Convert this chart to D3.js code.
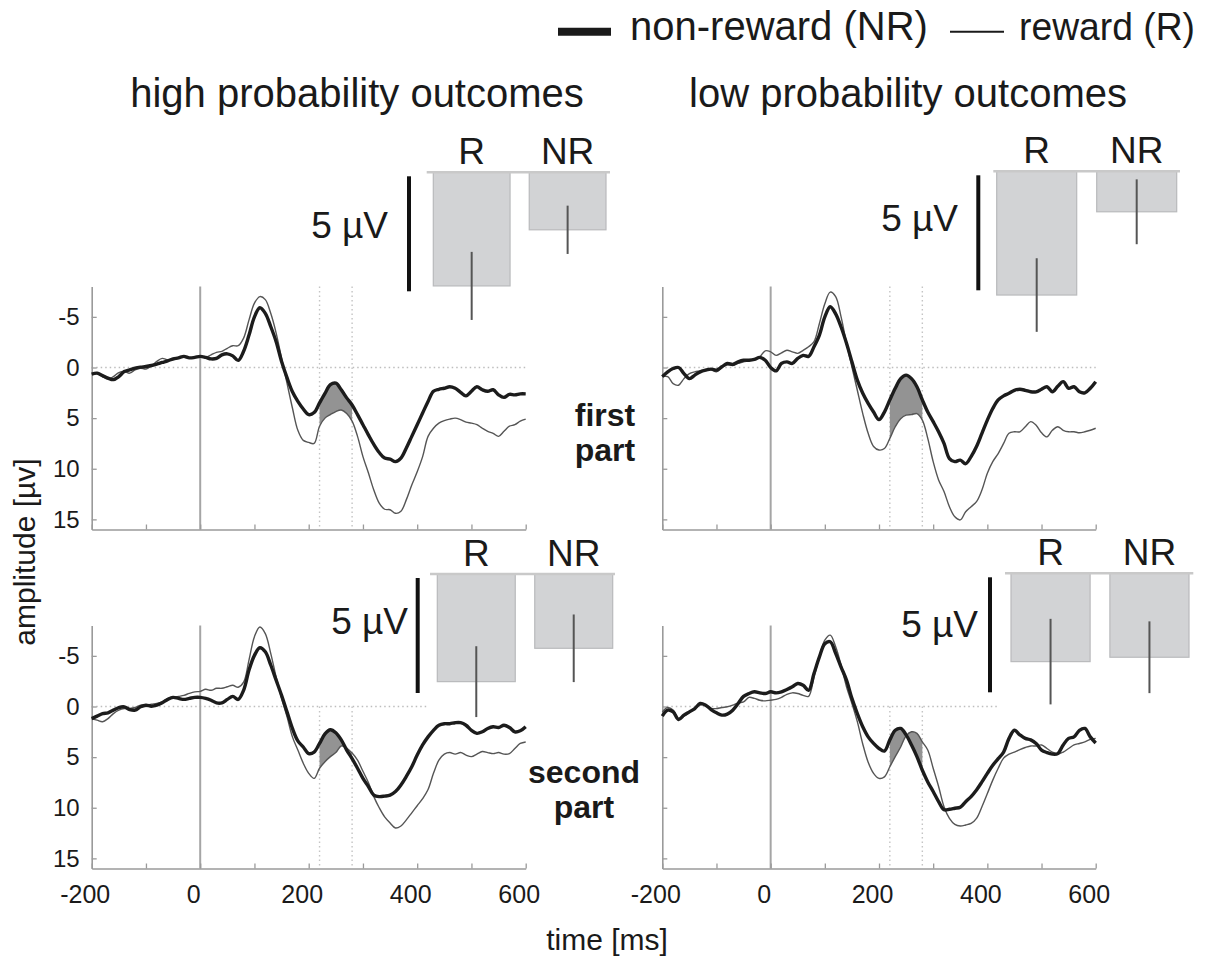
<!DOCTYPE html>
<html><head><meta charset="utf-8">
<script src="https://cdn.jsdelivr.net/npm/d3@7/dist/d3.min.js"></script>
<style>
body{margin:0;background:#fff}
svg{display:block}
text{font-family:"Liberation Sans",Arial,Helvetica,sans-serif;fill:#1a1a1a}
</style>
</head><body>
<svg id="chart" width="1207" height="959"></svg>
<script>
// ---------- DATA ----------
const times = d3.range(-200, 601, 10); // ms, sample grid
const yTicks = [-5, 0, 5, 10, 15];
const xTicks = [-200, -100, 0, 100, 200, 300, 400, 500, 600];
const xTickLabels = [-200, 0, 200, 400, 600];
const windowMs = [220, 280];
const barCategories = ["R", "NR"];
const titles = ["high probability outcomes", "low probability outcomes"];
const rowLabels = [["first", "part"], ["second", "part"]];
const legendLabels = ["non-reward (NR)", "reward (R)"];

// high probability, first part
const nrHighFirst = [0.66,0.56,0.8,1.05,1.2,0.9,0.4,0.23,0.07,-0.03,
 -0.1,-0.2,-0.33,-0.5,-0.66,-0.85,-0.95,-1.1,-0.95,-1.0,
 -1.1,-1.0,-0.85,-0.9,-1.25,-1.35,-1.15,-0.7,-1.6,-3.2,
 -5.0,-5.9,-5.35,-4.05,-2.55,-0.6,1.0,2.4,3.35,4.1,
 4.65,4.45,3.5,2.55,1.7,1.55,2.2,3.0,3.7,4.65,
 5.65,6.65,7.6,8.4,8.95,9.05,9.3,8.95,7.95,6.8,
 5.65,4.5,3.35,2.35,2.15,2.05,1.9,2.05,2.45,2.8,
 2.35,1.9,2.2,2.35,2.2,2.7,2.95,2.65,2.7,2.6,2.6];
const rHighFirst = [0.66,0.6,0.9,1.15,0.9,0.5,0.4,0.56,0.23,0.07,
 0.16,-0.16,-0.6,-0.9,-0.75,-0.75,-1.0,-1.0,-0.95,-1.0,
 -1.1,-1.0,-1.25,-1.5,-1.6,-1.9,-2.15,-2.15,-2.9,-4.7,
 -6.35,-7.0,-6.7,-5.35,-3.4,-0.9,1.55,4.0,6.2,7.2,
 7.4,7.5,5.8,5.0,4.65,4.35,4.2,4.55,5.3,6.8,
 8.8,10.4,12.1,13.4,14.0,14.05,14.4,14.2,13.05,11.6,
 10.3,8.8,6.8,6.0,5.5,5.25,5.1,5.0,5.15,5.4,
 5.5,5.65,6.0,6.3,6.5,6.8,6.3,5.8,5.65,5.3,5.1];

// low probability, first part
const nrLowFirst = [0.9,0.43,0.1,0,0.6,1.1,0.75,0.43,0.26,0.16,
 0.26,-0.07,-0.4,-0.3,-0.56,-0.72,-0.72,-0.8,-1.0,-0.72,
 0,0.33,-0.4,-0.56,-0.4,-0.9,-1.2,-1.1,-2.05,-3.2,
 -5.0,-6.0,-5.3,-4.0,-2.4,-0.56,1.25,2.55,3.55,4.4,
 5.15,4.4,3.2,2.05,1.1,0.75,1.1,1.9,3.2,4.4,
 5.35,6.35,7.5,9.0,9.3,9.15,9.5,8.8,7.8,6.5,
 5.2,4.05,3.2,2.8,2.55,2.25,2.15,2.25,2.4,2.4,
 2.15,1.9,2.4,1.85,1.4,2.05,1.9,2.4,2.5,2.05,1.4];
const rLowFirst = [0.9,0.9,1.6,1.75,1.1,0.6,0.43,0.33,0.2,0.2,
 0.43,0,-0.23,-0.23,-0.4,-0.56,-0.66,-0.8,-1.05,-1.65,
 -1.55,-1.2,-1.45,-1.7,-1.55,-1.4,-1.7,-2.05,-2.55,-4.35,
 -6.3,-7.45,-7.0,-5.0,-2.4,-0.07,2.25,4.55,6.5,7.8,
 8.15,8.0,7.0,5.85,5.05,4.7,4.65,4.55,5.2,7.0,
 9.3,11.1,12.25,13.75,14.75,15.05,14.25,13.75,13.25,12.1,
 10.45,9.3,8.5,7.5,6.5,6.35,6.35,5.85,5.35,5.7,
 6.45,6.85,6.2,5.85,6.2,6.35,6.35,6.45,6.35,6.2,6.0];

// high probability, second part
const nrHighSecond = [1.2,0.95,0.7,0.62,0.36,0.1,0.03,0.3,0.36,0.03,
 -0.13,-0.03,-0.13,-0.36,-0.7,-0.9,-0.8,-0.7,-0.8,-0.9,
 -0.9,-0.8,-0.62,-0.36,-0.36,-0.7,-1.0,-0.7,-1.6,-3.6,
 -5.05,-5.8,-5.4,-4.1,-2.6,-1.1,0.53,2.17,3.4,4.0,
 4.65,4.5,3.65,2.7,2.3,2.6,3.3,4.3,5.15,6.1,
 7.1,7.9,8.75,8.9,8.85,8.75,8.4,7.75,6.9,5.95,
 4.8,3.8,3.0,2.35,1.85,1.7,1.7,1.6,1.6,1.85,
 2.35,2.65,2.5,2.17,2.0,2.07,1.85,2.07,2.5,2.4,2.0];
const rHighSecond = [1.2,1.35,1.5,1.2,0.7,0.36,0.2,0.2,0.1,-0.13,
 -0.13,-0.23,-0.3,-0.46,-0.8,-0.9,-1.0,-1.1,-1.3,-1.45,
 -1.5,-1.7,-1.6,-1.8,-1.8,-1.95,-2.1,-1.9,-2.4,-4.6,
 -6.9,-7.85,-7.2,-5.25,-2.9,-0.8,1.0,3.0,4.3,5.6,
 6.6,7.1,6.1,5.45,4.95,4.55,3.9,4.1,4.6,5.3,
 6.4,7.5,8.9,10.0,10.9,11.5,12.0,11.8,11.2,10.5,
 9.8,9.1,8.2,6.6,5.3,4.7,4.55,4.7,4.55,4.8,
 4.95,4.7,4.45,4.55,4.65,4.55,4.7,4.65,4.15,3.65,3.5];

// low probability, second part
const nrLowSecond = [0.95,0.36,0.53,1.28,0.85,0.53,0.2,-0.3,-0.13,0.3,
 0.62,0.85,0.75,0.36,-0.3,-1.0,-1.28,-1.45,-1.35,-1.28,
 -1.45,-1.35,-1.45,-1.68,-1.95,-2.27,-2.1,-1.6,-3.25,-4.9,
 -6.2,-6.4,-5.25,-3.9,-2.6,-0.8,0.7,2.0,3.0,3.65,
 4.15,4.4,3.3,2.35,2.17,2.8,3.8,4.95,6.3,7.45,
 8.4,9.4,10.2,10.15,10.05,9.95,9.4,8.9,8.25,7.45,
 6.6,5.8,5.15,4.5,3.15,2.35,2.8,3.15,3.3,3.65,
 4.3,4.55,4.7,4.65,3.8,3.15,3.0,2.35,2.17,3.0,3.6];
const rLowSecond = [0.53,0.1,0.36,1.2,0.95,0.62,0.2,-0.13,-0.13,0.2,
 0.2,0.1,0.03,-0.13,-0.36,-0.46,-0.9,-0.8,-0.62,-0.56,
 -0.62,-0.7,-0.9,-1.2,-1.35,-1.28,-1.1,-1.0,-2.9,-4.9,
 -6.55,-7.05,-5.9,-4.1,-1.95,-0.3,1.5,3.7,5.5,6.6,
 7.1,6.95,5.95,4.95,4.0,2.9,2.5,2.65,3.5,4.3,
 6.1,7.9,9.9,11.05,11.65,11.8,11.7,11.55,11.05,9.9,
 8.6,7.27,6.1,5.1,4.7,4.5,4.25,4.05,3.9,3.9,
 3.8,4.15,4.5,4.7,4.5,4.15,3.8,3.65,3.5,3.25,3.15];

// inset bar charts: mean amplitude (µV) and error for [R, NR]
const barHighFirst = [4.94, 2.5],   errHighFirst = [1.48, 1.05];
const barLowFirst = [5.38, 1.76],   errLowFirst = [1.6, 1.41];
const barHighSecond = [4.68, 3.23], errHighSecond = [1.54, 1.47];
const barLowSecond = [3.84, 3.65],  errLowSecond = [1.86, 1.56];
const scaleBarValue = 5;

// ---------- LAYOUT ----------
const svg = d3.select("#chart");
const FONT = '"Liberation Sans",Arial,Helvetica,sans-serif';
const axisColor = "#9a9a9a";

const panels = [
  {nr: nrHighFirst, r: rHighFirst, x0: 91.7, x1: 525.7, top: 286.5, bottom: 529.5, yLab: true, xLab: false, zeroEnd: 600, vStart: -8},
  {nr: nrLowFirst, r: rLowFirst, x0: 662.3, x1: 1095.7, top: 286.5, bottom: 529.5, yLab: false, xLab: false, zeroEnd: 600, vStart: -8},
  {nr: nrHighSecond, r: rHighSecond, x0: 91.7, x1: 525.7, top: 625.5, bottom: 868.5, yLab: true, xLab: true, zeroEnd: 420, vStart: 0},
  {nr: nrLowSecond, r: rLowSecond, x0: 662.3, x1: 1095.7, top: 625.5, bottom: 868.5, yLab: false, xLab: true, zeroEnd: 420, vStart: 0}
];

const insets = [
  {vals: barHighFirst, errs: errHighFirst, bx0: 433.3, bx1: 606, lx0: 426.7, lx1: 610, baseY: 172.3, sx: 409, tx: 388, ty: 238},
  {vals: barLowFirst, errs: errLowFirst, bx0: 996.7, bx1: 1176.7, lx0: 993.3, lx1: 1180, baseY: 171.3, sx: 978.3, tx: 958, ty: 231},
  {vals: barHighSecond, errs: errHighSecond, bx0: 437.3, bx1: 612.7, lx0: 430, lx1: 615, baseY: 574, sx: 417.7, tx: 408, ty: 634},
  {vals: barLowSecond, errs: errLowSecond, bx0: 1011, bx1: 1189, lx0: 1005, lx1: 1193.3, baseY: 573.3, sx: 990, tx: 978, ty: 637}
];

const curve = d3.curveCatmullRom.alpha(0.5);

panels.forEach(p => {
  const g = svg.append("g");
  const x = d3.scaleLinear().domain([-200, 600]).range([p.x0, p.x1]);
  const y = d3.scaleLinear().domain([-8, 16]).range([p.top, p.bottom]);

  // dotted reference lines
  g.append("line").attr("x1", x(-200)).attr("x2", x(p.zeroEnd)).attr("y1", y(0)).attr("y2", y(0))
    .attr("stroke", "#bdbdbd").attr("stroke-width", 1.4).attr("stroke-dasharray", "1.5,3");
  windowMs.forEach(t => {
    g.append("line").attr("x1", x(t)).attr("x2", x(t)).attr("y1", y(p.vStart)).attr("y2", y(16))
      .attr("stroke", "#c4c4c4").attr("stroke-width", 1.4).attr("stroke-dasharray", "1.5,3");
  });

  // stimulus onset line
  g.append("line").attr("x1", x(0)).attr("x2", x(0)).attr("y1", y(-8)).attr("y2", y(16))
    .attr("stroke", "#a5a5a5").attr("stroke-width", 2);

  // axes
  const xa = g.append("g").attr("transform", `translate(0,${p.bottom})`)
    .call(d3.axisBottom(x).tickValues(xTicks).tickSizeInner(-5).tickSizeOuter(0).tickPadding(17)
      .tickFormat(d => (p.xLab && xTickLabels.includes(d)) ? d : ""));
  const ya = g.append("g").attr("transform", `translate(${p.x0},0)`)
    .call(d3.axisLeft(y).tickValues(yTicks).tickSizeInner(-5).tickSizeOuter(0).tickPadding(12)
      .tickFormat(d => p.yLab ? d : ""));
  [xa, ya].forEach(a => {
    a.select(".domain").attr("stroke", axisColor).attr("stroke-width", 1.6);
    a.selectAll(".tick line").attr("stroke", axisColor).attr("stroke-width", 1.3);
    a.selectAll("text").attr("font-family", FONT).attr("fill", "#1a1a1a");
  });
  xa.selectAll("text").attr("font-size", 25).attr("dx", -7);
  ya.selectAll("text").attr("font-size", 24);

  // shaded difference window
  const idx = times.map((t, i) => i).filter(i => times[i] >= windowMs[0] && times[i] <= windowMs[1]);
  g.append("path").datum(idx)
    .attr("d", d3.area().curve(curve).x(i => x(times[i])).y0(i => y(p.nr[i])).y1(i => y(p.r[i])))
    .attr("fill", "#939393").attr("stroke", "none");

  // waveforms
  const line = arr => d3.line().curve(curve).x((d, i) => x(times[i])).y(d => y(d))(arr);
  g.append("path").attr("d", line(p.r)).attr("fill", "none").attr("stroke", "#555").attr("stroke-width", 1.4);
  g.append("path").attr("d", line(p.nr)).attr("fill", "none").attr("stroke", "#1c1c1c").attr("stroke-width", 3.4)
    .attr("stroke-linejoin", "round");
});

// inset bar charts
insets.forEach(c => {
  const g = svg.append("g");
  const xb = d3.scaleBand().domain(barCategories).range([c.bx0, c.bx1]).paddingInner(0.2).paddingOuter(0);
  const yb = d3.scaleLinear().domain([0, scaleBarValue]).range([c.baseY, c.baseY + 115]);

  g.selectAll("rect.bar").data(barCategories).join("rect").attr("class", "bar")
    .attr("x", d => xb(d)).attr("width", xb.bandwidth())
    .attr("y", yb(0)).attr("height", (d, i) => yb(c.vals[i]) - yb(0))
    .attr("fill", "#d2d3d5").attr("stroke", "#b9babc").attr("stroke-width", 1.2);

  g.append("line").attr("x1", c.lx0).attr("x2", c.lx1).attr("y1", yb(0)).attr("y2", yb(0))
    .attr("stroke", "#c9c9c9").attr("stroke-width", 2.5);

  g.selectAll("line.err").data(barCategories).join("line").attr("class", "err")
    .attr("x1", d => xb(d) + xb.bandwidth() / 2).attr("x2", d => xb(d) + xb.bandwidth() / 2)
    .attr("y1", (d, i) => yb(c.vals[i] - c.errs[i])).attr("y2", (d, i) => yb(c.vals[i] + c.errs[i]))
    .attr("stroke", "#555").attr("stroke-width", 2);

  g.selectAll("text.cat").data(barCategories).join("text").attr("class", "cat")
    .attr("x", d => xb(d) + xb.bandwidth() / 2).attr("y", yb(0) - 8)
    .attr("text-anchor", "middle").attr("font-size", 37).text(d => d);

  // scale bar
  g.append("line").attr("x1", c.sx).attr("x2", c.sx).attr("y1", yb(0) + 4).attr("y2", yb(scaleBarValue) + 4)
    .attr("stroke", "#111").attr("stroke-width", 4);
  g.append("text").attr("x", c.tx).attr("y", c.ty)
    .attr("text-anchor", "end").attr("font-size", 37).text(scaleBarValue + " µV");
});

// titles
svg.append("text").attr("x", 357).attr("y", 107).attr("text-anchor", "middle").attr("font-size", 40).text(titles[0]);
svg.append("text").attr("x", 908).attr("y", 107).attr("text-anchor", "middle").attr("font-size", 40).text(titles[1]);

// row labels
rowLabels.forEach((lines, k) => {
  const cx = k === 0 ? 605 : 584;
  const by = k === 0 ? 426 : 783;
  lines.forEach((s, j) => {
    svg.append("text").attr("x", cx).attr("y", by + j * 35).attr("text-anchor", "middle")
      .attr("font-size", 32).attr("font-weight", "bold").text(s);
  });
});

// axis titles
svg.append("text").attr("transform", "translate(35,552) rotate(-90)").attr("text-anchor", "middle")
  .attr("font-size", 30).text("amplitude [µv]");
svg.append("text").attr("x", 607).attr("y", 950).attr("text-anchor", "middle").attr("font-size", 30).text("time [ms]");

// legend
svg.append("line").attr("x1", 558).attr("x2", 611).attr("y1", 31.7).attr("y2", 31.7).attr("stroke", "#1a1a1a").attr("stroke-width", 8);
svg.append("text").attr("x", 630).attr("y", 40).attr("font-size", 40).text(legendLabels[0]);
svg.append("line").attr("x1", 950).attr("x2", 1004).attr("y1", 31.7).attr("y2", 31.7).attr("stroke", "#1a1a1a").attr("stroke-width", 2);
svg.append("text").attr("x", 1019).attr("y", 40).attr("font-size", 39)
  .attr("textLength", 176).attr("lengthAdjust", "spacingAndGlyphs").text(legendLabels[1]);
</script>
</body></html>
